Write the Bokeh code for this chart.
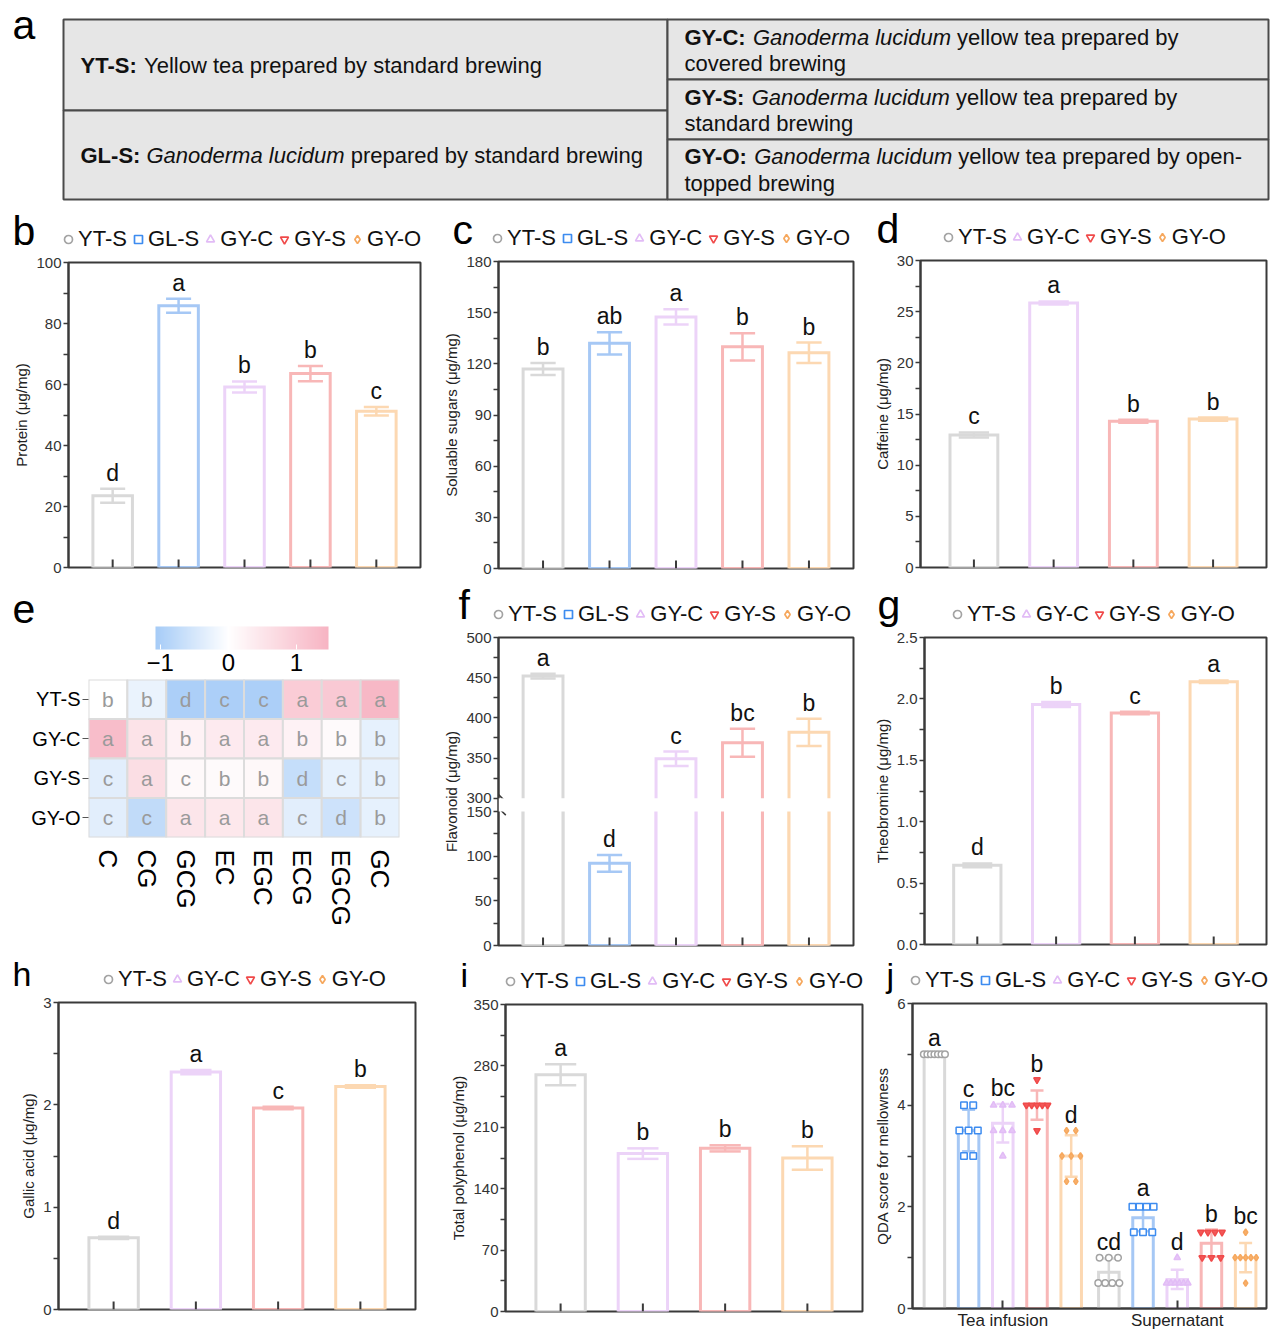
import math
from bokeh.plotting import figure
from bokeh.models import (Range1d, FactorRange, FixedTicker, Legend, LegendItem,
                          LinearColorMapper, ColorBar, ColumnDataSource, BoxAnnotation,
                          NumeralTickFormatter)
from bokeh.layouts import column, row
from bokeh.embed import file_html
from bokeh.resources import INLINE
from bokeh.core.properties import value

# ============================ DATA ============================
samples5 = ["YT-S", "GL-S", "GY-C", "GY-S", "GY-O"]
samples4 = ["YT-S", "GY-C", "GY-S", "GY-O"]

protein_mean = [23.5, 85.8, 59.2, 63.6, 51.2]
protein_sd = [2.3, 2.3, 1.8, 2.5, 1.4]
protein_sig = ["d", "a", "b", "b", "c"]

sugar_mean = [117.0, 132.0, 147.5, 130.0, 126.5]
sugar_sd = [3.5, 6.5, 4.5, 8.0, 6.0]
sugar_sig = ["b", "ab", "a", "b", "b"]

caffeine_mean = [12.95, 25.85, 14.3, 14.5]
caffeine_sd = [0.25, 0.15, 0.15, 0.15]
caffeine_sig = ["c", "a", "b", "b"]

flavonoid_mean = [452.0, 92.0, 349.0, 369.0, 382.0]
flavonoid_sd = [3.0, 9.5, 9.0, 17.5, 17.0]
flavonoid_sig = ["a", "d", "c", "bc", "b"]

theobromine_mean = [0.645, 1.955, 1.885, 2.14]
theobromine_sd = [0.015, 0.02, 0.01, 0.01]
theobromine_sig = ["d", "b", "c", "a"]

gallic_mean = [0.70, 2.32, 1.97, 2.18]
gallic_sd = [0.012, 0.02, 0.012, 0.012]
gallic_sig = ["d", "a", "c", "b"]

polyphenol_mean = [270.0, 180.0, 186.0, 175.0]
polyphenol_sd = [12.0, 6.0, 3.5, 13.5]
polyphenol_sig = ["a", "b", "b", "b"]

catechins = ["C", "CG", "GCG", "EC", "EGC", "ECG", "EGCG", "GC"]
heat_rows = ["YT-S", "GY-C", "GY-S", "GY-O"]
heat_yts = [0.0, -0.25, -1.0, -1.0, -1.0, 1.0, 1.05, 1.4]
heat_gyc = [1.3, 0.55, 0.25, 0.4, 0.4, 0.25, 0.1, -0.3]
heat_gys = [-0.35, 0.65, 0.12, 0.1, 0.15, -0.7, -0.3, -0.3]
heat_gyo = [-0.35, -0.75, 0.5, 0.45, 0.5, -0.35, -0.6, -0.3]
sig_yts = ["b", "b", "d", "c", "c", "a", "a", "a"]
sig_gyc = ["a", "a", "b", "a", "a", "b", "b", "b"]
sig_gys = ["c", "a", "c", "b", "b", "d", "c", "b"]
sig_gyo = ["c", "c", "a", "a", "a", "c", "d", "b"]
heat_ticks = [-1, 0, 1]

qda_stages = ["Tea infusion", "Supernatant"]
qda_tea = [[5, 5, 5, 5, 5, 5, 5],
           [4, 4, 3.5, 3.5, 3.5, 3, 3],
           [4, 4, 4, 3.5, 3.5, 3.5, 3],
           [4.5, 4, 4, 4, 4, 4, 3.5],
           [3.5, 3.5, 3, 3, 3, 2.5, 2.5]]
qda_sup = [[1, 1, 1, 0.5, 0.5, 0.5, 0.5],
           [2, 2, 2, 2, 1.5, 1.5, 1.5],
           [1, 0.5, 0.5, 0.5, 0.5, 0.5, 0.5],
           [1.5, 1.5, 1.5, 1.5, 1, 1, 1],
           [1.5, 1, 1, 1, 1, 1, 0.5]]
qda_tea_sig = ["a", "c", "bc", "b", "d"]
qda_sup_sig = ["cd", "a", "d", "b", "bc"]

# table (panel a): lines of (text, style) segments
table_left = [
    [[("YT-S:", "bold"), (" Yellow tea prepared by standard brewing", "normal")]],
    [[("GL-S:", "bold"), (" ", "normal"), ("Ganoderma lucidum", "italic"),
      (" prepared by standard brewing", "normal")]],
]
table_right = [
    [[("GY-C:", "bold"), (" ", "normal"), ("Ganoderma lucidum", "italic"),
      (" yellow tea prepared by", "normal")], [("covered brewing", "normal")]],
    [[("GY-S:", "bold"), (" ", "normal"), ("Ganoderma lucidum", "italic"),
      (" yellow tea prepared by", "normal")], [("standard brewing", "normal")]],
    [[("GY-O:", "bold"), (" ", "normal"), ("Ganoderma lucidum", "italic"),
      (" yellow tea prepared by open-", "normal")], [("topped brewing", "normal")]],
]

# ============================ STYLE ============================
FONT = "Liberation Sans"
AX = "#3a3a3a"
BAR_COL = {"YT-S": "#d9d9d9", "GL-S": "#a6c8f5", "GY-C": "#ecd3f8", "GY-S": "#f8b7b7", "GY-O": "#fcd8b2"}
MK_COL = {"YT-S": "#a3a3a3", "GL-S": "#3d8cf0", "GY-C": "#e2bcf6", "GY-S": "#f04a4a", "GY-O": "#f6a85e"}
MK = {"YT-S": "circle", "GL-S": "square", "GY-C": "triangle", "GY-S": "inverted_triangle", "GY-O": "diamond"}
PT_FILL = {"YT-S": "white", "GL-S": "white", "GY-C": "#e6c6f7", "GY-S": "#f25858", "GY-O": "#f7b06c"}

COLS = [(0, 440), (440, 870), (870, 1278)]
ROWS = [(0, 204), (204, 581), (581, 954), (954, 1340)]
BAR_W = 0.6
CAP = 0.19

REG_W = {' ': 278, '-': 333, ':': 278, 'C': 722, 'G': 778, 'L': 556, 'O': 778, 'S': 667, 'T': 611,
         'Y': 667, 'a': 556, 'b': 556, 'c': 500, 'd': 556, 'e': 556, 'f': 278, 'g': 556, 'h': 556,
         'i': 222, 'j': 222, 'k': 500, 'l': 222, 'm': 833, 'n': 556, 'o': 556, 'p': 556, 'q': 556,
         'r': 333, 's': 500, 't': 278, 'u': 556, 'v': 500, 'w': 722, 'x': 500, 'y': 500, 'z': 500}
BOLD_W = {' ': 278, '-': 333, ':': 333, 'C': 722, 'G': 778, 'L': 611, 'O': 778, 'S': 667, 'T': 611, 'Y': 667}


def text_w(s, style, size):
    tab = BOLD_W if style == "bold" else REG_W
    return sum(tab.get(ch, 556) for ch in s) * size / 1000.0


def bare_fig(x0, x1, y0, y1):
    """A figure whose data coordinates are page pixels (y downward)."""
    f = figure(width=x1 - x0, height=y1 - y0, x_range=Range1d(x0, x1), y_range=Range1d(y1, y0),
               x_axis_type=None, y_axis_type=None, toolbar_location=None, output_backend="svg",
               min_border=0, outline_line_color=None, frame_align=False)
    f.background_fill_color = "white"
    f.border_fill_color = "white"
    return f


def header(col, y0, y1, letter, letter_pos, legend_groups=None, legend_x=None, spacing=1, lsize=41):
    cx0, cx1 = COLS[col]
    h = bare_fig(cx0, cx1, y0, y1)
    h.text(x=[letter_pos[0]], y=[letter_pos[1]], text=[letter], text_font=value(FONT),
           text_font_size=f"{lsize}px", text_baseline="middle", text_align="left",
           text_color="black")
    if legend_groups:
        items = []
        for g in legend_groups:
            # one point placed outside the header's visible range: only its legend swatch shows
            r = h.scatter(x=[cx0 - 100], y=[y0 - 100], marker=MK[g], size=8, line_color=MK_COL[g],
                          fill_color="white", line_width=1.7)
            items.append(LegendItem(label=g, renderers=[r]))
        lg = Legend(items=items, orientation="horizontal", location=(legend_x - cx0, 1),
                    label_text_font=FONT, label_text_font_size="22px", label_text_color="#111111",
                    glyph_width=20, glyph_height=20, label_standoff=0, spacing=spacing,
                    padding=0, margin=0, border_line_color=None, background_fill_alpha=0,
                    label_height=20)
        h.add_layout(lg, "center")
    return h


def make_fig(col, y0, y1, frame, xr, yr):
    cx0, cx1 = COLS[col]
    fx0, fy0, fx1, fy1 = frame
    p = figure(width=cx1 - cx0, height=y1 - y0,
               min_border_left=fx0 - cx0, min_border_right=cx1 - fx1,
               min_border_top=fy0 - y0, min_border_bottom=y1 - fy1,
               x_range=xr, y_range=yr, toolbar_location=None, output_backend="svg",
               frame_align=False)
    p.xgrid.visible = False
    p.ygrid.visible = False
    p.background_fill_color = "white"
    p.border_fill_color = "white"
    return p


def style_axes(p, ylabel, yticks, yminor, fmt=None, hide_x=True):
    p.outline_line_color = AX
    p.outline_line_width = 2
    if hide_x:
        p.xaxis.visible = False
    ya = p.yaxis[0]
    ya.ticker = FixedTicker(ticks=yticks, minor_ticks=yminor)
    if fmt is not None:
        ya.formatter = NumeralTickFormatter(format=fmt)
    ya.axis_label = ylabel
    ya.axis_label_text_font = FONT
    ya.axis_label_text_font_size = "15px"
    ya.axis_label_text_font_style = "normal"
    ya.axis_label_text_color = "#222222"
    ya.axis_label_standoff = 3
    ya.major_label_text_font = FONT
    ya.major_label_text_font_size = "15px"
    ya.major_label_text_color = "#333333"
    ya.major_label_standoff = 2
    ya.major_tick_in = 0
    ya.major_tick_out = 5
    ya.minor_tick_in = 0
    ya.minor_tick_out = 5
    ya.axis_line_color = AX
    ya.axis_line_width = 2
    ya.major_tick_line_color = AX
    ya.minor_tick_line_color = AX
    ya.major_tick_line_width = 1.5
    ya.minor_tick_line_width = 1.5


def inner_ticks(p, xs, ytop, frame):
    # short tick marks pointing into the frame from the bottom axis
    L = 8.0 * ytop / (frame[3] - frame[1])
    p.segment(x0=xs, y0=[0] * len(xs), x1=xs, y1=[L] * len(xs), line_color=AX, line_width=2)


def ticks_for(top, step, start=0.0):
    n = int(round((top - start) / step))
    major = [round(start + k * step, 6) for k in range(n + 1)]
    minor = [round(start + (k + 0.5) * step, 6) for k in range(n)]
    return major, minor


def draw_bars(p, xs, tops, colors, rn="default"):
    src = ColumnDataSource(dict(x=xs, top=tops, c=colors))
    p.vbar(x="x", top="top", bottom=0, width=BAR_W, fill_color="white", line_color="c",
           line_width=3, line_join="miter", source=src, y_range_name=rn)


def draw_err(p, xs, means, sds, sigs, colors, rn="default", letter_y=None, lw=2.5):
    lo = [m - s for m, s in zip(means, sds)]
    hi = [m + s for m, s in zip(means, sds)]
    ly = letter_y if letter_y is not None else hi
    src = ColumnDataSource(dict(x=xs, lo=lo, hi=hi, l=[x - CAP for x in xs], r=[x + CAP for x in xs],
                                c=colors, sig=sigs, ly=ly))
    p.segment(x0="x", y0="lo", x1="x", y1="hi", line_color="c", line_width=lw, source=src, y_range_name=rn)
    p.segment(x0="l", y0="hi", x1="r", y1="hi", line_color="c", line_width=lw, source=src, y_range_name=rn)
    p.segment(x0="l", y0="lo", x1="r", y1="lo", line_color="c", line_width=lw, source=src, y_range_name=rn)
    p.text(x="x", y="ly", text="sig", text_align="center", text_baseline="bottom", y_offset=-3,
           text_font=value(FONT), text_font_size="23px", text_color="#111111", source=src, y_range_name=rn)


def bar_panel(col, rw, frame, groups, mean, sd, sig, ylabel, ymax, step, fmt, legend_groups,
              legend_x, letter, letter_pos, leg_spacing=1, lsize=41):
    n = len(groups)
    ry0, ry1 = ROWS[rw]
    hb = frame[1] - 9
    hdr = header(col, ry0, hb, letter, letter_pos, legend_groups, legend_x, leg_spacing, lsize)
    p = make_fig(col, hb, ry1, frame, Range1d(-0.67, n - 0.33), Range1d(0, ymax))
    xs = list(range(n))
    colors = [BAR_COL[g] for g in groups]
    draw_bars(p, xs, mean, colors)
    draw_err(p, xs, mean, sd, sig, colors)
    inner_ticks(p, xs, ymax, frame)
    major, minor = ticks_for(ymax, step)
    style_axes(p, ylabel, major, minor, fmt)
    return column(hdr, p, spacing=0)


# ============================ PANEL a ============================
pa = bare_fig(0, 1278, ROWS[0][0], ROWS[0][1])
TL, TM, TR, TT, TB = 63, 667, 1268, 19, 199
left_splits = [TT, 110, TB]
right_splits = [TT, 79, 139, TB]
qx0 = [TL, TL] + [TM] * 3
qx1 = [TM, TM] + [TR] * 3
qy0 = left_splits[:-1] + right_splits[:-1]
qy1 = left_splits[1:] + right_splits[1:]
pa.quad(left=qx0, right=qx1, top=qy0, bottom=qy1, fill_color="#e6e6e6",
        line_color="#4a4a4a", line_width=2)
TSIZE = 22
seg = {"normal": ([], [], []), "bold": ([], [], []), "italic": ([], [], [])}
cells = [(80, [65], table_left[0]), (80, [155], table_left[1]),
         (684, [37, 63], table_right[0]), (684, [97, 123], table_right[1]),
         (684, [156, 183], table_right[2])]
for x0, ys, lines in cells:
    for yy, line in zip(ys, lines):
        cx = x0
        for txt, st in line:
            stripped = txt.lstrip(" ")
            cx += text_w(txt[:len(txt) - len(stripped)], st, TSIZE)
            if stripped:
                seg[st][0].append(cx)
                seg[st][1].append(yy)
                seg[st][2].append(stripped)
                cx += text_w(stripped, st, TSIZE)
for st, (sx, sy, stx) in seg.items():
    pa.text(x=sx, y=sy, text=stx, text_font=value(FONT), text_font_size=f"{TSIZE}px",
            text_font_style=st, text_baseline="middle", text_align="left", text_color="#111111")
pa.text(x=[12], y=[24], text=["a"], text_font=value(FONT), text_font_size="41px",
        text_baseline="middle", text_color="black")

# ============================ ROW 2 ============================
col_b = bar_panel(0, 1, (68, 262, 420, 567), samples5, protein_mean, protein_sd, protein_sig,
                  "Protein (μg/mg)", 100, 20, None, samples5, 58, "b", (12, 230))
col_c = bar_panel(1, 1, (497, 261, 853, 568), samples5, sugar_mean, sugar_sd, sugar_sig,
                  "Soluable sugars (μg/mg)", 180, 30, None, samples5, 487, "c", (452, 229))
col_d = bar_panel(2, 1, (910, 260, 1266, 567), samples4, caffeine_mean, caffeine_sd, caffeine_sig,
                  "Caffeine (μg/mg)", 30, 5, None, samples4, 938, "d", (876, 228), leg_spacing=0)

# ============================ ROW 3 ============================
# ---- panel e (heatmap) ----
fe = (88, 679, 399, 837)
EH = 676
hdr_e = header(0, ROWS[2][0], EH, "e", (12, 608))
LOW, HIGH = -1.07, 1.47
BLUE, WHITE, PINK = (166, 204, 247), (255, 255, 255), (247, 180, 195)
palette = []
for i in range(256):
    v = LOW + (HIGH - LOW) * i / 255.0
    if v < 0:
        f, end = v / LOW, BLUE
    else:
        f, end = v / HIGH, PINK
    rgb = [int(round(WHITE[k] + (end[k] - WHITE[k]) * f)) for k in range(3)]
    palette.append("#%02x%02x%02x" % tuple(rgb))
mapper = LinearColorMapper(palette=palette, low=LOW, high=HIGH)
cb = ColorBar(color_mapper=mapper, orientation="horizontal", width=173, height=23,
              location=(155 - COLS[0][0], 3), padding=0, margin=0, label_standoff=4,
              ticker=FixedTicker(ticks=heat_ticks), major_label_overrides={-1: "\u22121"},
              major_label_text_font=FONT, major_label_text_font_size="24px",
              major_label_text_color="black", major_tick_line_color="white", major_tick_in=5,
              major_tick_out=0, minor_tick_line_color=None, bar_line_color=None,
              border_line_color=None, background_fill_alpha=0)
hdr_e.add_layout(cb, "center")

pe = make_fig(0, EH, ROWS[2][1], fe, FactorRange(factors=catechins),
              FactorRange(factors=list(reversed(heat_rows))))
hx, hy, hz, hs = [], [], [], []
for rname, zs, ss in zip(heat_rows, [heat_yts, heat_gyc, heat_gys, heat_gyo],
                         [sig_yts, sig_gyc, sig_gys, sig_gyo]):
    for cname, z, s in zip(catechins, zs, ss):
        hx.append(cname)
        hy.append(rname)
        hz.append(z)
        hs.append(s)
hsrc = ColumnDataSource(dict(x=hx, y=hy, z=hz, s=hs))
pe.rect(x="x", y="y", width=1, height=1, fill_color={"field": "z", "transform": mapper},
        line_color="#dcdcdc", line_width=2, source=hsrc)
pe.text(x="x", y="y", text="s", text_align="center", text_baseline="middle",
        text_font=value(FONT), text_font_size="21px", text_color="#9a9a9a", source=hsrc)
pe.outline_line_color = None
pe.xaxis.axis_line_color = None
pe.xaxis.major_tick_line_color = None
pe.xaxis.major_label_orientation = -math.pi / 2
pe.xaxis.major_label_text_font = FONT
pe.xaxis.major_label_text_font_size = "26px"
pe.xaxis.major_label_text_color = "black"
pe.xaxis.major_label_standoff = 6
pe.yaxis.axis_line_color = None
pe.yaxis.major_tick_out = 6
pe.yaxis.major_tick_in = 0
pe.yaxis.major_tick_line_color = "#555555"
pe.yaxis.major_label_text_font = FONT
pe.yaxis.major_label_text_font_size = "20px"
pe.yaxis.major_label_text_color = "black"
pe.yaxis.major_label_standoff = 2
col_e = column(hdr_e, pe, spacing=0)

# ---- panel f (broken y axis) ----
ff = (497, 637, 853, 945)
BRK_LO, BRK_HI, BRK_GAP, BRK_K, F_TOP = 150, 300, 15, 0.9, 500


def fmap(v):
    return round(BRK_LO + BRK_GAP + (v - BRK_HI) * BRK_K, 6)


hdr_f = header(1, ROWS[2][0], ff[1] - 9, "f", (458, 604), samples5, 488)
pf = make_fig(1, ff[1] - 9, ROWS[2][1], ff, Range1d(-0.67, 4.67), Range1d(0, fmap(F_TOP)))
pf.extra_y_ranges = {"upper": Range1d(BRK_HI - (BRK_LO + BRK_GAP) / BRK_K, F_TOP)}
xs5 = list(range(5))
fcol = [BAR_COL[g] for g in samples5]
low_i = [i for i, v in enumerate(flavonoid_mean) if v <= BRK_LO]
high_i = [i for i, v in enumerate(flavonoid_mean) if v >= BRK_HI]
clamp = BRK_LO + BRK_GAP / 2
draw_bars(pf, xs5, [min(v, clamp) for v in flavonoid_mean], fcol)
draw_bars(pf, [xs5[i] for i in high_i], [flavonoid_mean[i] for i in high_i],
          [fcol[i] for i in high_i], rn="upper")
draw_err(pf, [xs5[i] for i in low_i], [flavonoid_mean[i] for i in low_i],
         [flavonoid_sd[i] for i in low_i], [flavonoid_sig[i] for i in low_i], [fcol[i] for i in low_i])
draw_err(pf, [xs5[i] for i in high_i], [flavonoid_mean[i] for i in high_i],
         [flavonoid_sd[i] for i in high_i], [flavonoid_sig[i] for i in high_i],
         [fcol[i] for i in high_i], rn="upper")
pf.add_layout(BoxAnnotation(bottom=BRK_LO, top=BRK_LO + BRK_GAP, right=4.64, fill_color="white",
                            fill_alpha=1, line_alpha=0))
# small diagonal break marks on the left axis
pf.segment(x0=[-0.67, -0.67], y0=[BRK_LO + 4, BRK_LO + BRK_GAP + 4],
           x1=[-0.56, -0.56], y1=[BRK_LO - 4, BRK_LO + BRK_GAP - 4], line_color=AX, line_width=1.5)
inner_ticks(pf, xs5, fmap(F_TOP), ff)
lmaj, lmin = ticks_for(BRK_LO, 50)
umaj, umin = ticks_for(F_TOP, 50, BRK_HI)
style_axes(pf, "Flavonoid (μg/mg)", lmaj + [fmap(v) for v in umaj], lmin + [fmap(v) for v in umin])
pf.yaxis[0].major_label_overrides = {fmap(v): str(int(v)) for v in umaj}
col_f = column(hdr_f, pf, spacing=0)

col_g = bar_panel(2, 2, (910, 637, 1266, 944), samples4, theobromine_mean, theobromine_sd,
                  theobromine_sig, "Theobromine (μg/mg)", 2.5, 0.5, "0.0", samples4, 947, "g",
                  (877, 604), leg_spacing=0)

# ============================ ROW 4 ============================
col_h = bar_panel(0, 3, (58, 1002, 415, 1309), samples4, gallic_mean, gallic_sd, gallic_sig,
                  "Gallic acid (μg/mg)", 3, 1, None, samples4, 98, "h", (12, 973.5), leg_spacing=0,
                  lsize=34)
col_i = bar_panel(1, 3, (505, 1004, 862, 1311), samples4, polyphenol_mean, polyphenol_sd,
                  polyphenol_sig, "Total polyphenol (μg/mg)", 350, 70, None, samples5, 500, "i",
                  (460, 974.5), lsize=34)

# ---- panel j (QDA) ----
fj = (912, 1003, 1266, 1308)
GROUP_OFF = 5.1
hdr_j = header(2, ROWS[3][0], fj[1] - 9, "j", (886, 974), samples5, 905, lsize=34)
pj = make_fig(2, fj[1] - 9, ROWS[3][1], fj, Range1d(-0.64, 4 + GROUP_OFF + 0.61), Range1d(0, 6))
for si, (scores_all, sigs) in enumerate([(qda_tea, qda_tea_sig), (qda_sup, qda_sup_sig)]):
    xs = [i + si * GROUP_OFF for i in range(5)]
    means = [sum(s) / len(s) for s in scores_all]
    sds = [math.sqrt(sum((v - m) ** 2 for v in s) / (len(s) - 1)) for s, m in zip(scores_all, means)]
    cols = [BAR_COL[g] for g in samples5]
    draw_bars(pj, xs, means, cols)
    ly = [max(max(s), m + sd) for s, m, sd in zip(scores_all, means, sds)]
    draw_err(pj, xs, means, sds, sigs, cols, letter_y=ly, lw=2.5)
    for g, x, s in zip(samples5, xs, scores_all):
        px, py = [], []
        for val in sorted(set(s), reverse=True):
            k = s.count(val)
            sp = min(0.27, 0.62 / (k - 1)) if k > 1 else 0
            for j in range(k):
                px.append(x + (j - (k - 1) / 2) * sp)
                py.append(val)
        pj.scatter(x=px, y=py, marker=MK[g], size=6.5, line_color=MK_COL[g], fill_color=PT_FILL[g],
                   line_width=1.5)
jmaj, jmin = ticks_for(6, 2)
centers = [2 + si * GROUP_OFF for si in range(2)]
style_axes(pj, "QDA score for mellowness", jmaj, jmin, hide_x=False)
xa = pj.xaxis[0]
xa.ticker = FixedTicker(ticks=centers, minor_ticks=[])
xa.major_label_overrides = {c: t for c, t in zip(centers, qda_stages)}
xa.major_label_text_font_size = "17px"
xa.major_label_text_font = FONT
xa.major_label_text_color = "#222222"
xa.major_label_standoff = 2
xa.major_tick_in = 8
xa.major_tick_out = 0
xa.minor_tick_in = 0
xa.minor_tick_out = 0
xa.axis_line_color = AX
xa.axis_line_width = 2
xa.major_tick_line_color = AX
xa.major_tick_line_width = 2
col_j = column(hdr_j, pj, spacing=0)

layout = column(pa, row(col_b, col_c, col_d, spacing=0), row(col_e, col_f, col_g, spacing=0),
                row(col_h, col_i, col_j, spacing=0), spacing=0)
open("out.html", "w").write(file_html(layout, INLINE, title="Ganoderma lucidum yellow tea"))
